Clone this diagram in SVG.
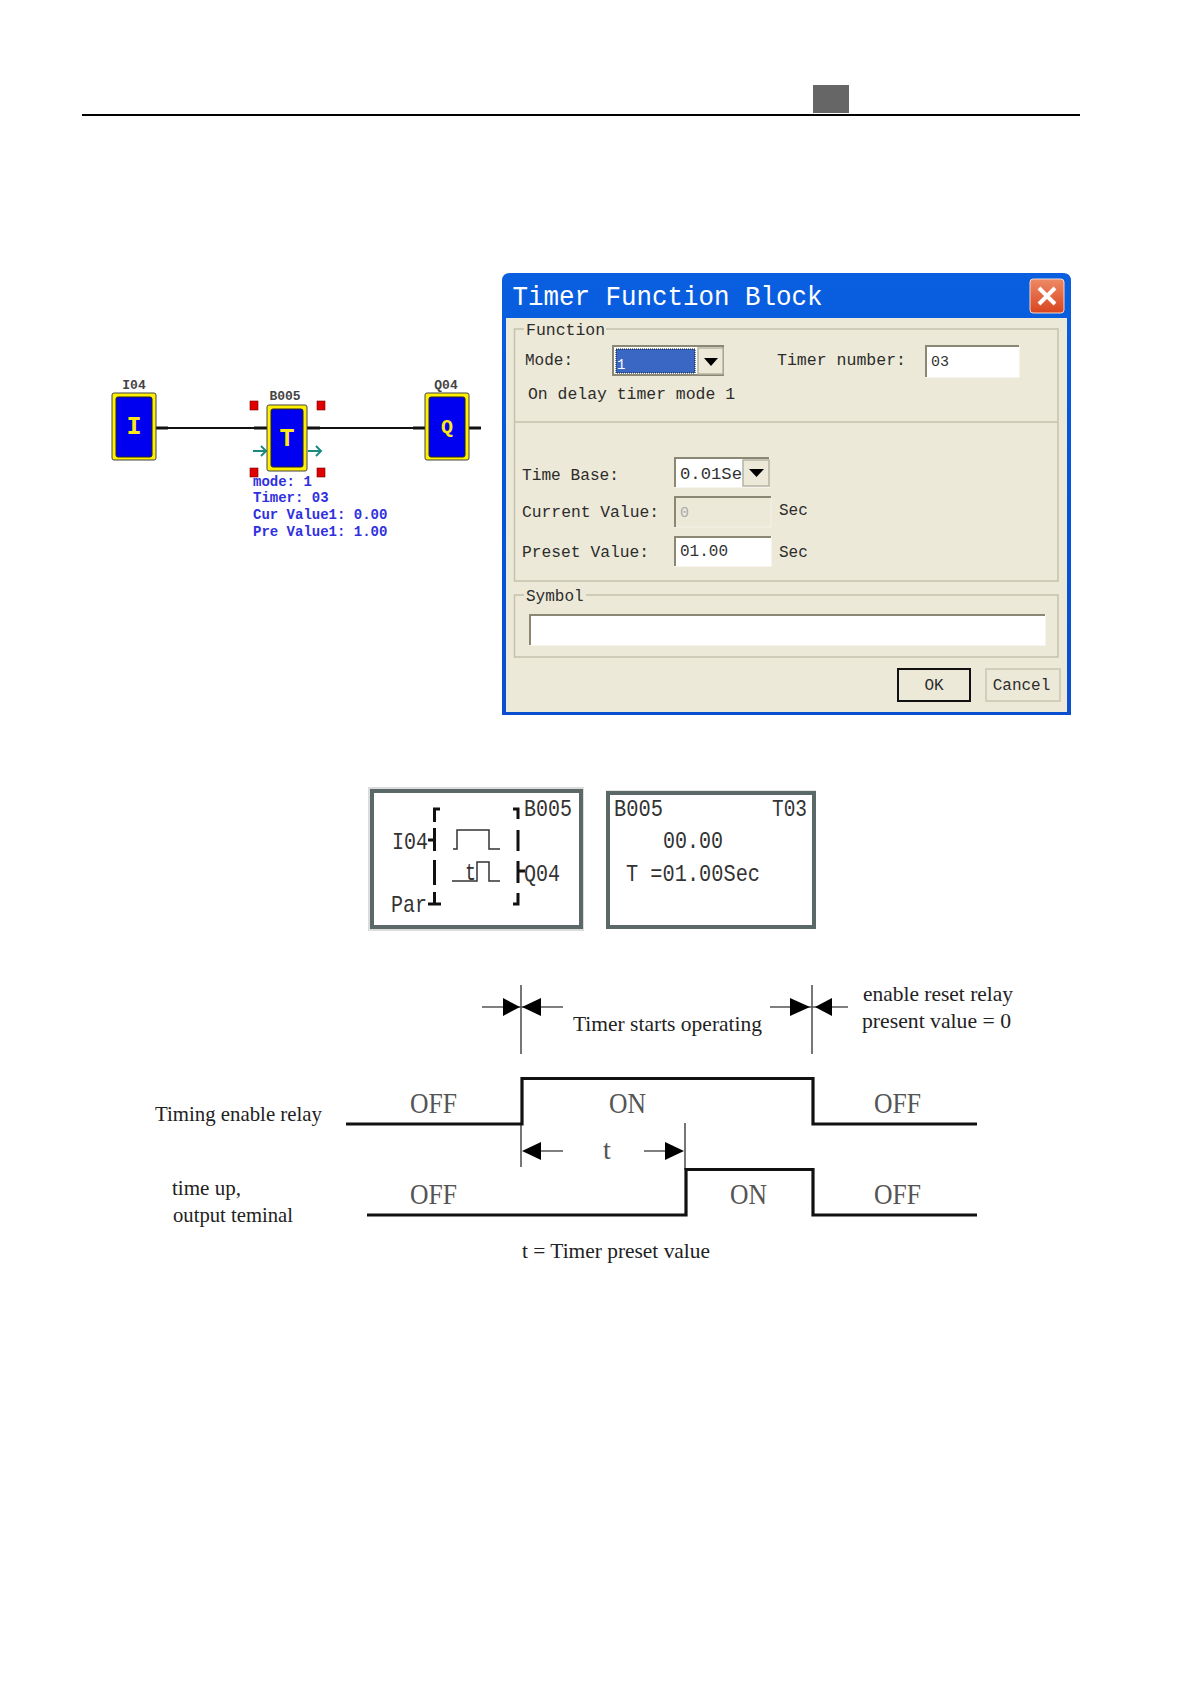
<svg xmlns="http://www.w3.org/2000/svg" width="1191" height="1684" viewBox="0 0 1191 1684">
<style>
.m{font-family:"Liberation Mono","DejaVu Sans Mono",monospace;font-size:16px;fill:#2c2c2c}
.blk{font-family:"Liberation Mono",monospace;font-size:13px;fill:#444;text-anchor:middle;font-weight:bold}
.par{font-family:"Liberation Mono",monospace;font-size:14px;fill:#3030e0;font-weight:bold}
.glyph{font-family:"Liberation Mono",monospace;font-weight:bold;font-size:25px;fill:#ffe81a;text-anchor:middle}
.lcd{font-family:"Liberation Mono",monospace;font-size:24px;fill:#333}
.s{font-family:"Liberation Serif",serif;font-size:22px;fill:#222}
.st{font-family:"Liberation Serif",serif;font-size:29px;fill:#555}
.out{fill:#ffef00;stroke:#444;stroke-width:1}
.in{fill:#0000f0;stroke:#222;stroke-width:1}
.wire{stroke:#111;stroke-width:2;fill:none}
.stub{stroke:#111;stroke-width:3;fill:none}
.red{fill:#e00000;stroke:#700;stroke-width:.6}
.teal{stroke:#1a8a80;stroke-width:2;fill:none}
.grp{fill:none;stroke:#c4c2ae;stroke-width:1.5}
.fld{fill:#fff;stroke:#fff}
.sunk{fill:none;stroke:#8a8874;stroke-width:2}
.btn{fill:#ece9d8;stroke:#b4b2a0;stroke-width:1.5}
.tri{fill:#000}
.fr{fill:#fff;stroke:#5a6868;stroke-width:4}
.bar{stroke:#111;stroke-width:3;fill:none}
.w{stroke:#333;stroke-width:1.5;fill:none}
.t{stroke:#111;stroke-width:3.2;fill:none}
.g{stroke:#555;stroke-width:1.6;fill:none}
.a{fill:#000}
</style>
<defs>
<linearGradient id="tb" x1="0" y1="0" x2="0" y2="1"><stop offset="0" stop-color="#0a5fe0"/><stop offset=".5" stop-color="#0355dc"/><stop offset="1" stop-color="#0a4fcf"/></linearGradient>
<linearGradient id="cl" x1="0" y1="0" x2="0" y2="1"><stop offset="0" stop-color="#ee8a66"/><stop offset="1" stop-color="#d8451f"/></linearGradient>
</defs>

<g id="header">
<rect x="813" y="85" width="36" height="28" fill="#666"/>
<line x1="82" y1="115" x2="1080" y2="115" stroke="#000" stroke-width="2"/>
</g>

<g id="connectors-fbd">
<path class="wire" d="M156 428H267M307 428H425M469 428H481"/>
<path class="stub" d="M156 428H168M254 428H267M307 428H320M413 428H425M469 428H481"/>
</g>
<g id="node-I04">
<rect class="out" x="112" y="393" width="44" height="67" rx="2"/><rect class="in" x="116" y="397" width="36" height="60" rx="2"/>
<text class="glyph" x="134" y="434">I</text>
<text class="blk" x="134" y="389">I04</text>
</g>
<g id="node-B005">
<rect class="red" x="250" y="401" width="8" height="9"/><rect class="red" x="317" y="401" width="8" height="9"/>
<rect class="red" x="250" y="468" width="8" height="9"/><rect class="red" x="317" y="468" width="8" height="9"/>
<path class="teal" d="M253 451H266M261 446L266 451L261 456M308 451H321M316 446L321 451L316 456"/>
<rect class="out" x="267" y="405" width="40" height="66" rx="2"/><rect class="in" x="271" y="409" width="32" height="58" rx="2"/>
<text class="glyph" x="287" y="446">T</text>
<text class="blk" x="285" y="400">B005</text>
<text class="par" x="253" y="486">mode: 1</text>
<text class="par" x="253" y="502">Timer: 03</text>
<text class="par" x="253" y="519">Cur Value1: 0.00</text>
<text class="par" x="253" y="536">Pre Value1: 1.00</text>
</g>
<g id="node-Q04">
<rect class="out" x="425" y="393" width="44" height="67" rx="2"/><rect class="in" x="429" y="397" width="36" height="60" rx="2"/>
<text class="glyph" x="447" y="433" style="font-size:20px">Q</text>
<text class="blk" x="446" y="389">Q04</text>
</g>

<g id="dialog">
<path d="M502 715V281Q502 273 510 273H1063Q1071 273 1071 281V715Z" fill="url(#tb)"/>
<rect x="506" y="318" width="561" height="394" fill="#ece9d8"/>
<text x="512.500" y="305" font-family="Liberation Mono,monospace" font-size="27" fill="#fff" textLength="310" lengthAdjust="spacingAndGlyphs">Timer Function Block</text>
<rect x="1030" y="279" width="34" height="34" rx="3" fill="url(#cl)" stroke="#f4d8c8"/>
<path d="M1039 288L1055 304M1055 288L1039 304" stroke="#fff" stroke-width="4"/>

<rect class="grp" x="514.500" y="329" width="543.500" height="252"/>
<line class="grp" x1="514.500" y1="422" x2="1058" y2="422"/>
<rect x="524" y="322" width="82" height="14" fill="#ece9d8"/>
<text class="m" x="526" y="335" textLength="79" lengthAdjust="spacingAndGlyphs">Function</text>
<text class="m" x="525" y="365">Mode:</text>
<rect x="613" y="346" width="110" height="29" fill="#fff"/>
<rect class="sunk" x="613" y="346" width="110" height="29"/>
<rect x="616" y="349" width="79" height="24" fill="#3a66c4" stroke="#111" stroke-width="1" stroke-dasharray="1 1"/>
<text x="617" y="369" font-family="Liberation Mono,monospace" font-size="14" fill="#fff">1</text>
<rect class="btn" x="698" y="348" width="25" height="26"/>
<path class="tri" d="M704 358H718L711 366Z"/>
<text class="m" x="777" y="365" textLength="129" lengthAdjust="spacingAndGlyphs">Timer number:</text>
<rect class="fld" x="926" y="346" width="93" height="31"/>
<path class="sunk" d="M926 377V346H1019"/>
<text x="931" y="366" font-family="Liberation Mono,monospace" font-size="15" fill="#333">03</text>
<text class="m" x="528" y="399" textLength="207" lengthAdjust="spacingAndGlyphs">On delay timer mode 1</text>

<text class="m" x="522" y="480" textLength="97" lengthAdjust="spacingAndGlyphs">Time Base:</text>
<rect class="fld" x="675" y="458" width="94" height="29"/>
<path class="sunk" d="M675 487V458H769"/>
<text x="680" y="479" font-family="Liberation Mono,monospace" font-size="16" fill="#333" textLength="62" lengthAdjust="spacingAndGlyphs">0.01Se</text>
<rect class="btn" x="743" y="460" width="26" height="26"/>
<path class="tri" d="M749 469H764L756.500 477Z"/>
<text class="m" x="522" y="517" textLength="137" lengthAdjust="spacingAndGlyphs">Current Value:</text>
<rect x="675" y="497" width="96" height="30" fill="#ece9d8" stroke="#f4f2e8"/>
<path class="sunk" d="M675 527V497H771"/>
<text x="680" y="517" font-family="Liberation Mono,monospace" font-size="15" fill="#aaa">0</text>
<text class="m" x="779" y="515">Sec</text>
<text class="m" x="522" y="557" textLength="127" lengthAdjust="spacingAndGlyphs">Preset Value:</text>
<rect class="fld" x="675" y="537" width="96" height="29"/>
<path class="sunk" d="M675 566V537H771"/>
<text x="680" y="556" font-family="Liberation Mono,monospace" font-size="16" fill="#333">01.00</text>
<text class="m" x="779" y="557">Sec</text>

<rect class="grp" x="514.500" y="595" width="543.500" height="62"/>
<rect x="524" y="588" width="62" height="14" fill="#ece9d8"/>
<text class="m" x="526" y="601">Symbol</text>
<rect class="fld" x="530" y="615" width="515" height="30"/>
<path class="sunk" d="M530 645V615H1045"/>

<rect x="898" y="669" width="72" height="32" fill="#ece9d8" stroke="#111" stroke-width="2"/>
<text class="m" x="934" y="690" text-anchor="middle">OK</text>
<rect x="986" y="669" width="74" height="32" fill="#ece9d8" stroke="#c8c6b2" stroke-width="1.500"/>
<text class="m" x="1021.500" y="690" text-anchor="middle">Cancel</text>
</g>

<g id="lcd-left">
<rect x="368" y="787" width="216" height="144" fill="#dcdcdc"/>
<rect class="fr" x="372" y="791" width="209" height="136"/>
<path class="bar" d="M440 809H434.500V822M434.500 828V851M434.500 860V885M434.500 892V904M428 904H441M428 840H434.500"/>
<path class="bar" d="M513 809H518V819M518 830V851M518 861V883M518 871H525M518 893V904H513"/>
<path class="w" d="M453 849H457V830H489V849H500M452 881H477V862H489V881H500"/>
<text class="lcd" x="524" y="816" textLength="48" lengthAdjust="spacingAndGlyphs">B005</text>
<text class="lcd" x="392" y="849" textLength="36" lengthAdjust="spacingAndGlyphs">I04</text>
<text class="lcd" x="524" y="881" textLength="36" lengthAdjust="spacingAndGlyphs">Q04</text>
<text class="lcd" x="391" y="912" textLength="36" lengthAdjust="spacingAndGlyphs">Par</text>
<text class="lcd" x="465" y="880" textLength="11" lengthAdjust="spacingAndGlyphs">t</text>
</g>
<g id="lcd-right">
<rect x="606" y="790" width="210" height="138" fill="#e4e4e4"/>
<rect class="fr" x="608" y="793" width="206" height="134"/>
<text class="lcd" x="614" y="816" textLength="49" lengthAdjust="spacingAndGlyphs">B005</text>
<text class="lcd" x="772" y="816" textLength="35" lengthAdjust="spacingAndGlyphs">T03</text>
<text class="lcd" x="663" y="848" textLength="60" lengthAdjust="spacingAndGlyphs">00.00</text>
<text class="lcd" x="626" y="881" textLength="134" lengthAdjust="spacingAndGlyphs">T =01.00Sec</text>
</g>

<g id="timing-connectors">
<path class="g" d="M521 985V1054M482 1007H563M812 985V1054M770 1007H848M521 1124V1167M541 1151H563M644 1151H665M685 1123V1170"/>
<path class="a" d="M503 998L520 1007L503 1016ZM541 998L522 1007L541 1016ZM790 998L810 1007L790 1016ZM832 998L815 1007L832 1016ZM541 1142L522 1151L541 1160ZM665 1142L684 1151L665 1160Z"/>
<path class="t" d="M346 1124H522V1078.500H813V1124H977"/>
<path class="t" d="M367 1215H686V1169.500H813V1215H977"/>
</g>
<g id="timing-labels">
<text class="s" x="155" y="1121" textLength="167" lengthAdjust="spacingAndGlyphs">Timing enable relay</text>
<text class="s" x="172" y="1195" textLength="69" lengthAdjust="spacingAndGlyphs">time up,</text>
<text class="s" x="173" y="1222" textLength="120" lengthAdjust="spacingAndGlyphs">output teminal</text>
<text class="st" x="410" y="1113" textLength="47" lengthAdjust="spacingAndGlyphs">OFF</text>
<text class="st" x="609" y="1113" textLength="37" lengthAdjust="spacingAndGlyphs">ON</text>
<text class="st" x="874" y="1113" textLength="47" lengthAdjust="spacingAndGlyphs">OFF</text>
<text class="st" x="410" y="1204" textLength="47" lengthAdjust="spacingAndGlyphs">OFF</text>
<text class="st" x="730" y="1204" textLength="37" lengthAdjust="spacingAndGlyphs">ON</text>
<text class="st" x="874" y="1204" textLength="47" lengthAdjust="spacingAndGlyphs">OFF</text>
<text class="st" x="603" y="1159" style="font-size:28px">t</text>
<text class="s" x="573" y="1031" textLength="189" lengthAdjust="spacingAndGlyphs">Timer starts operating</text>
<text class="s" x="863" y="1001" textLength="150" lengthAdjust="spacingAndGlyphs">enable reset relay</text>
<text class="s" x="862" y="1028" textLength="149" lengthAdjust="spacingAndGlyphs">present value = 0</text>
<text class="s" x="522" y="1258" textLength="188" lengthAdjust="spacingAndGlyphs">t = Timer preset value</text>
</g>
</svg>
